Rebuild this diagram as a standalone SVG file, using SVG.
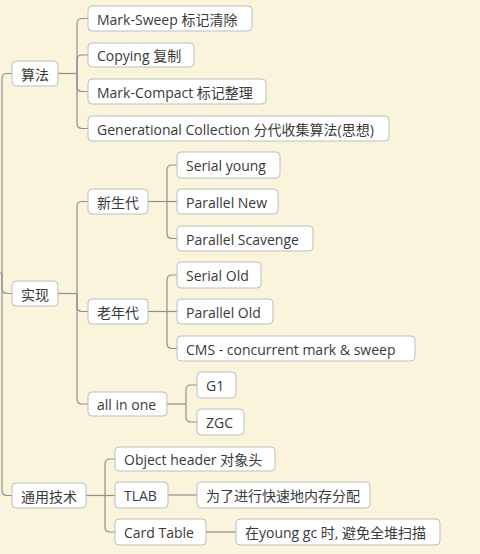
<svg xmlns="http://www.w3.org/2000/svg" width="480" height="554" viewBox="0 0 480 554">
<style>
.n rect{fill:#fff;stroke:#bdbdbd;stroke-width:1}
.n text{font-family:"Open Sans","Noto Sans CJK SC",sans-serif;font-size:14px;fill:#3a3a3a;dominant-baseline:central}
.c path{fill:none;stroke:#8f8f8f;stroke-width:1.2}
</style>
<rect width="480" height="554" fill="#fbf4dc"/>
<g class="c">
<path d="M0 273H2"/>
<path d="M2 273V78.5Q2 73.5 7 73.5H12"/>
<path d="M2 273V288.5Q2 293.5 7 293.5H12"/>
<path d="M2 273V490.5Q2 495.5 7 495.5H12"/>
<path d="M58 73.5H77"/>
<path d="M77 73.5V23.5Q77 18.5 82 18.5H88"/>
<path d="M77 73.5V60Q77 55 82 55H88"/>
<path d="M77 73.5V86.5Q77 91.5 82 91.5H88"/>
<path d="M77 73.5V123.5Q77 128.5 82 128.5H88"/>
<path d="M58 293.5H77"/>
<path d="M77 293.5V206.5Q77 201.5 82 201.5H88"/>
<path d="M77 293.5V306.5Q77 311.5 82 311.5H88"/>
<path d="M77 293.5V399Q77 404 82 404H88"/>
<path d="M148 201.5H177"/>
<path d="M167 201.5V170Q167 165 172 165H177"/>
<path d="M167 201.5V233.5Q167 238.5 172 238.5H177"/>
<path d="M148 311.5H177"/>
<path d="M167 311.5V280Q167 275 172 275H177"/>
<path d="M167 311.5V343.5Q167 348.5 172 348.5H177"/>
<path d="M167 404H186"/>
<path d="M186 404V390Q186 385 191 385H197"/>
<path d="M186 404V417Q186 422 191 422H197"/>
<path d="M86 495.5H115"/>
<path d="M105 495.5V464Q105 459 110 459H115"/>
<path d="M105 495.5V527Q105 532 110 532H115"/>
<path d="M168 495H197"/>
<path d="M206 532H236"/>
</g>
<g id="n-suanfa" class="n"><rect x="12" y="61" width="46" height="25" rx="4"/><text x="21" y="74">算法</text></g>
<g id="n-ms" class="n"><rect x="88" y="6" width="164" height="25" rx="4"/><text x="97" y="19">Mark-Sweep 标记清除</text></g>
<g id="n-copy" class="n"><rect x="88" y="43" width="106" height="24" rx="4"/><text x="97" y="55.5">Copying 复制</text></g>
<g id="n-mc" class="n"><rect x="88" y="79" width="178" height="25" rx="4"/><text x="97" y="92">Mark-Compact 标记整理</text></g>
<g id="n-gen" class="n"><rect x="88" y="116" width="301" height="25" rx="4"/><text x="97" y="129">Generational Collection 分代收集算法(思想)</text></g>
<g id="n-shixian" class="n"><rect x="12" y="281" width="46" height="25" rx="4"/><text x="21" y="294">实现</text></g>
<g id="n-xsd" class="n"><rect x="88" y="189" width="60" height="25" rx="4"/><text x="97" y="202">新生代</text></g>
<g id="n-lnd" class="n"><rect x="88" y="299" width="60" height="25" rx="4"/><text x="97" y="312">老年代</text></g>
<g id="n-aio" class="n"><rect x="88" y="392" width="79" height="24" rx="4"/><text x="97" y="404.5">all in one</text></g>
<g id="n-sy" class="n"><rect x="177" y="152" width="103" height="26" rx="4"/><text x="186" y="165.5">Serial young</text></g>
<g id="n-pn" class="n"><rect x="177" y="189" width="101" height="25" rx="4"/><text x="186" y="202">Parallel New</text></g>
<g id="n-ps" class="n"><rect x="177" y="226" width="136" height="25" rx="4"/><text x="186" y="239">Parallel Scavenge</text></g>
<g id="n-so" class="n"><rect x="177" y="262" width="84" height="26" rx="4"/><text x="186" y="275.5">Serial Old</text></g>
<g id="n-po" class="n"><rect x="177" y="299" width="96" height="25" rx="4"/><text x="186" y="312">Parallel Old</text></g>
<g id="n-cms" class="n"><rect x="177" y="336" width="238" height="25" rx="4"/><text x="186" y="349">CMS - concurrent mark &amp; sweep</text></g>
<g id="n-g1" class="n"><rect x="197" y="372" width="39" height="26" rx="4"/><text x="206" y="385.5">G1</text></g>
<g id="n-zgc" class="n"><rect x="197" y="409" width="47" height="26" rx="4"/><text x="206" y="422.5">ZGC</text></g>
<g id="n-tyjs" class="n"><rect x="12" y="483" width="74" height="25" rx="4"/><text x="21" y="496">通用技术</text></g>
<g id="n-oh" class="n"><rect x="115" y="447" width="160" height="24" rx="4"/><text x="124" y="459.5">Object header 对象头</text></g>
<g id="n-tlab" class="n"><rect x="115" y="482" width="53" height="26" rx="4"/><text x="124" y="495.5">TLAB</text></g>
<g id="n-tlabd" class="n"><rect x="197" y="482" width="173" height="26" rx="4"/><text x="206" y="495.5">为了进行快速地内存分配</text></g>
<g id="n-ct" class="n"><rect x="115" y="519" width="91" height="26" rx="4"/><text x="124" y="532.5">Card Table</text></g>
<g id="n-ctd" class="n"><rect x="236" y="519" width="204" height="26" rx="4"/><text x="245" y="532.5">在young gc 时, 避免全堆扫描</text></g>
</svg>
